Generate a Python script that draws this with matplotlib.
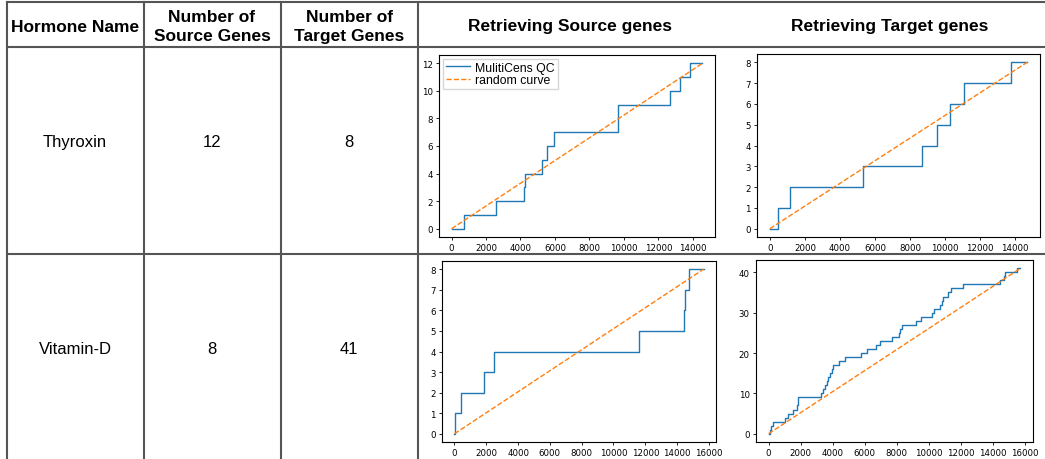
import matplotlib.pyplot as plt
import numpy as np

# table text
col_headers = ["Hormone Name", "Number of\nSource Genes", "Number of\nTarget Genes",
               "Retrieving Source genes", "Retrieving Target genes"]
hormones = ["Thyroxin", "Vitamin-D"]
n_source = [12, 8]
n_target = [8, 41]

# rank positions where each gene is retrieved, plus total number of ranks
thy_source_hits = [700, 2600, 4185, 4280, 5265, 5535, 5960, 9680, 9680, 12650, 13267, 13865]
thy_source_total = 14560
thy_target_hits = [480, 1130, 5325, 8715, 9557, 10285, 11109, 13771]
thy_target_total = 14690
vit_source_hits = [20, 420, 1887, 2495, 11617, 14405, 14510, 14741]
vit_source_total = 15664
vit_target_hits = [60, 150, 270, 1020, 1208, 1520, 1790, 1850, 1860, 3250,
                   3375, 3520, 3640, 3700, 3810, 3940, 4040, 4417, 4790, 5750,
                   6170, 6710, 6960, 7670, 8150, 8200, 8330, 9210, 9500, 10190,
                   10310, 10670, 10790, 10875, 11190, 11375, 12150, 14440, 14710, 14730,
                   15480]
vit_target_total = 15710

W, H = 1045, 460
fig = plt.figure(figsize=(W / 100, H / 100), dpi=100)

# background axes in pixel coordinates for the table grid
bg = fig.add_axes([0, 0, 1, 1])
bg.set_xlim(0, W)
bg.set_ylim(H, 0)
bg.axis("off")
grid_color = "#555555"
bg.plot([7, W], [3, 3], color=grid_color, lw=1.5)
bg.plot([7, W], [48, 48], color=grid_color, lw=1.5)
bg.plot([7, W], [255, 255], color=grid_color, lw=1.5)
for x in [7, 144, 281, 418]:
    bg.plot([x, x], [3, H], color=grid_color, lw=1.5)

hdr_x = [75, 212, 349, 570, 890]
for x, t in zip(hdr_x, col_headers):
    bg.text(x, 27, t, ha="center", va="center", fontsize=12.5, fontweight="bold",
            family="Liberation Sans", linespacing=1.4)

row_y = [143, 350]
for i, y in enumerate(row_y):
    bg.text(hdr_x[0], y, hormones[i], ha="center", va="center", fontsize=12, family="Liberation Sans")
    bg.text(hdr_x[1], y, str(n_source[i]), ha="center", va="center", fontsize=12, family="Liberation Sans")
    bg.text(hdr_x[2], y, str(n_target[i]), ha="center", va="center", fontsize=12, family="Liberation Sans")


def px_axes(x0, y0, x1, y1):
    return fig.add_axes([x0 / W, 1 - y1 / H, (x1 - x0) / W, (y1 - y0) / H])


def draw(ax, hits, total, legend=False):
    xs = [0] + hits + [total]
    ys = list(range(len(hits) + 1)) + [len(hits)]
    ax.step(xs, ys, where="post", color="#1f77b4", lw=1.0, label="MulitiCens QC")
    ax.plot([0, total], [0, len(hits)], color="#ff7f0e", lw=1.0, ls="--", label="random curve")
    ax.tick_params(labelsize=6.2, length=2.5, width=0.6, pad=2)
    for s in ax.spines.values():
        s.set_linewidth(0.8)
    if legend:
        ax.legend(loc="upper left", prop={"family": "Liberation Sans", "size": 8.8},
                  handlelength=2.0, borderpad=0.25, labelspacing=0.05,
                  handletextpad=0.4, borderaxespad=0.3, fancybox=False)


ax1 = px_axes(439, 56, 715, 238)
draw(ax1, thy_source_hits, thy_source_total, legend=True)
ax1.set_xticks(np.arange(0, 14001, 2000))
ax1.set_yticks(np.arange(0, 13, 2))

ax2 = px_axes(757, 55, 1040, 238)
draw(ax2, thy_target_hits, thy_target_total)
ax2.set_xticks(np.arange(0, 14001, 2000))

ax3 = px_axes(442, 262, 716, 443)
draw(ax3, vit_source_hits, vit_source_total)
ax3.set_xticks(np.arange(0, 16001, 2000))

ax4 = px_axes(756, 261, 1033, 443)
draw(ax4, vit_target_hits, vit_target_total)
ax4.set_xticks(np.arange(0, 16001, 2000))

fig.savefig("out.png", dpi=100)
